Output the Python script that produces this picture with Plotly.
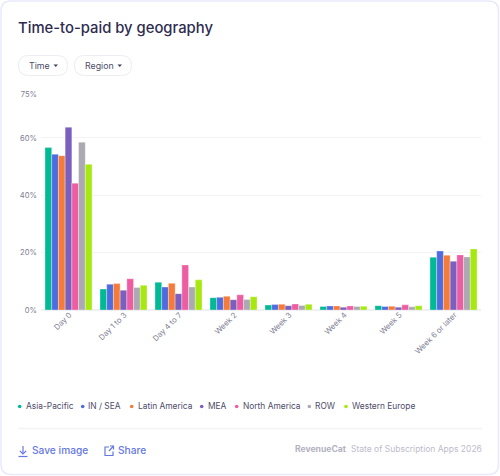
import plotly.graph_objects as go

W, H = 500, 476

categories = ["Day 0", "Day 1 to 3", "Day 4 to 7", "Week 2", "Week 3", "Week 4", "Week 5", "Week 6 or later"]
asia_pacific = [56.6, 7.3, 9.7, 4.3, 1.7, 1.2, 1.5, 18.4]
in_sea = [54.3, 9.0, 8.0, 4.4, 1.9, 1.4, 1.2, 20.6]
latin_america = [53.8, 9.2, 9.3, 4.8, 2.0, 1.4, 1.3, 19.1]
mea = [63.7, 6.9, 5.7, 3.6, 1.5, 1.0, 1.0, 17.0]
north_america = [44.2, 10.9, 15.7, 5.3, 2.1, 1.4, 1.8, 19.2]
row = [58.5, 7.8, 8.0, 3.7, 1.6, 1.2, 1.1, 18.5]
western_europe = [50.8, 8.6, 10.5, 4.6, 2.0, 1.3, 1.5, 21.3]

series_names = ["Asia-Pacific", "IN / SEA", "Latin America", "MEA", "North America", "ROW", "Western Europe"]
series_values = [asia_pacific, in_sea, latin_america, mea, north_america, row, western_europe]
series_colors = ["#00BA94", "#4F6BE0", "#F47B3A", "#7A5FBF", "#EE5CA2", "#ABA9B2", "#A6E80F"]
y_ticks = [0, 20, 40, 60, 75]
y_tick_labels = ["0%", "20%", "40%", "60%", "75%"]

FONT = "Inter"
INK = "#2E2B4F"
MUTED = "#807E94"
LINK = "#6577E2"


def px(x):
    return x / W


def py(y):
    return 1 - y / H


def path(points, close=False):
    body = " L".join(f"{px(x):.5f},{py(y):.5f}" for x, y in points)
    return "M" + body + (" Z" if close else "")


def rounded(x0, y0, x1, y1, r):
    xa, xb, ya, yb = px(x0), px(x1), py(y0), py(y1)
    rx, ry = r / W, r / H
    return (
        f"M{xa + rx:.5f},{ya:.5f} L{xb - rx:.5f},{ya:.5f} Q{xb:.5f},{ya:.5f} {xb:.5f},{ya - ry:.5f} "
        f"L{xb:.5f},{yb + ry:.5f} Q{xb:.5f},{yb:.5f} {xb - rx:.5f},{yb:.5f} "
        f"L{xa + rx:.5f},{yb:.5f} Q{xa:.5f},{yb:.5f} {xa:.5f},{yb + ry:.5f} "
        f"L{xa:.5f},{ya - ry:.5f} Q{xa:.5f},{ya:.5f} {xa + rx:.5f},{ya:.5f} Z"
    )


def shape_path(d, line=None, fill=None, width=1, layer="below"):
    return dict(type="path", xref="paper", yref="paper", path=d, layer=layer,
                line=dict(color=line or "rgba(0,0,0,0)", width=width if line else 0),
                fillcolor=fill or "rgba(0,0,0,0)")


def label(text, x, y, size, color, anchor="left", weight=400):
    return dict(text=text, x=px(x), y=py(y), xref="paper", yref="paper", showarrow=False,
                xanchor=anchor, yanchor="middle", align=anchor, borderpad=0, borderwidth=0,
                font=dict(family=FONT, size=size, color=color, weight=weight))


fig = go.Figure()
for name, values, color in zip(series_names, series_values, series_colors):
    fig.add_bar(name=name, x=categories, y=values,
                marker=dict(color=color, line=dict(color="rgba(255,255,255,0.55)", width=0.6)))

shapes = [
    shape_path(rounded(1, 1, 498.5, 474.5, 10), line="#E8EAFB", fill="#FFFFFF", width=1.5),
    shape_path(rounded(18.5, 55.5, 67.5, 75.5, 10), line="#ECECF2", fill="#FFFFFF"),
    shape_path(rounded(74.5, 55.5, 131.5, 75.5, 10), line="#ECECF2", fill="#FFFFFF"),
    shape_path(path([(53.5, 64.5), (58, 64.5), (55.75, 67)], True), fill="#3F3C5C"),
    shape_path(path([(117.5, 64.5), (122, 64.5), (119.75, 67)], True), fill="#3F3C5C"),
    # separator above the footer
    shape_path(path([(18, 428.5), (482, 428.5)]), line="#F3F3F7", width=1.5),
    # save icon
    shape_path(path([(23, 446), (23, 454)]), line=LINK, width=1.2, layer="above"),
    shape_path(path([(19.8, 450.8), (23, 454), (26.2, 450.8)]), line=LINK, width=1.2, layer="above"),
    shape_path(path([(18.5, 456.5), (27.5, 456.5)]), line=LINK, width=1.2, layer="above"),
    # share icon
    shape_path(path([(109, 447), (105, 447), (105, 455.5), (113, 455.5), (113, 451.5)]), line=LINK, width=1.2, layer="above"),
    shape_path(path([(109, 451), (113.5, 446)]), line=LINK, width=1.2, layer="above"),
    shape_path(path([(110, 446), (113.5, 446), (113.5, 449.5)]), line=LINK, width=1.2, layer="above"),
]

annotations = [
    label("Time-to-paid by geography", 18, 27.5, 14.8, INK, weight=500),
    label("Time", 29, 65.5, 8.8, "#4E4C69"),
    label("Region", 84.5, 65.5, 8.8, "#4E4C69"),
    label("Save image", 32, 450.3, 10.2, LINK, weight=500),
    label("Share", 118, 450.3, 10.2, LINK, weight=500),
    label("RevenueCat", 295.3, 449.3, 8.6, "#B3B2C2", weight=700),
    label("State of Subscription Apps 2026", 482, 449.3, 8.5, "#BDBCCB", anchor="right"),
]

legend_dots = [19.7, 82.7, 131.7, 201.7, 236.7, 309.3, 346]
legend_text = [25.7, 88, 137.7, 207.7, 242.5, 315, 352]
for name, color, dot_x, text_x in zip(series_names, series_colors, legend_dots, legend_text):
    shapes.append(dict(type="circle", xref="paper", yref="paper", fillcolor=color, line=dict(width=0),
                       x0=px(dot_x - 1.8), x1=px(dot_x + 1.8), y0=py(406.5 + 1.8), y1=py(406.5 - 1.8)))
    annotations.append(label(name, text_x, 406.3, 8.4, "#4E4C69"))

fig.update_layout(
    width=W, height=H,
    margin=dict(l=0, r=0, t=0, b=0, autoexpand=False),
    paper_bgcolor="#FFFFFF",
    plot_bgcolor="rgba(0,0,0,0)",
    barmode="group",
    bargap=0.145,
    bargroupgap=0.0,
    showlegend=False,
    shapes=shapes,
    annotations=annotations,
    xaxis=dict(domain=[px(41), px(481)], tickangle=-45, showgrid=False, zeroline=False,
               showline=False, ticks="", ticklabelstandoff=-2, ticklabelshift=1,
               tickfont=dict(family=FONT, size=7.7, color=MUTED)),
    yaxis=dict(domain=[py(310), py(94.8)], range=[0, 75], tickvals=y_ticks, ticktext=y_tick_labels,
               showgrid=True, gridcolor="#F3F3F6", gridwidth=1, zeroline=True, zerolinecolor="#F0F0F4",
               showline=False, ticks="", ticklabelstandoff=3,
               tickfont=dict(family=FONT, size=7.6, color=MUTED)),
    font=dict(family=FONT),
)

fig.write_html("out.html", config=dict(displayModeBar=False))
